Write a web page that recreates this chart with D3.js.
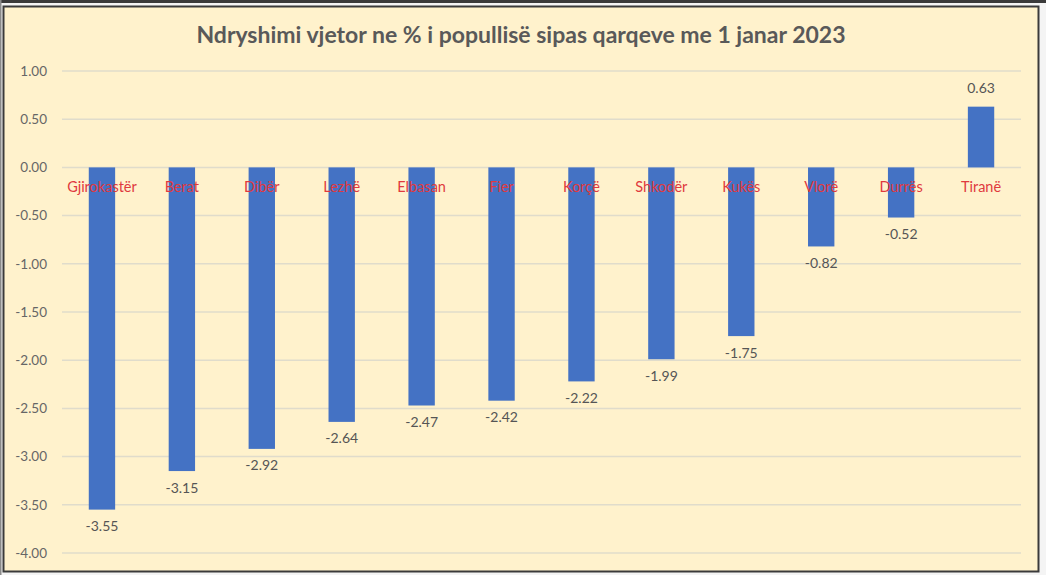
<!DOCTYPE html>
<html><head><meta charset="utf-8">
<script src="https://cdn.jsdelivr.net/npm/d3@7"></script>
<style>html,body{margin:0;padding:0;background:#f4f4f4;}svg{display:block;}</style>
</head><body>
<svg id="chart" width="1046" height="575"></svg>
<script>
const title = "Ndryshimi vjetor ne % i popullisë sipas qarqeve me 1 janar 2023";
const categories = ["Gjirokastër","Berat","Dibër","Lezhë","Elbasan","Fier","Korçë","Shkodër","Kukës","Vlorë","Durrës","Tiranë"];
const values = [-3.55,-3.15,-2.92,-2.64,-2.47,-2.42,-2.22,-1.99,-1.75,-0.82,-0.52,0.63];
const yTicks = [1.00,0.50,0.00,-0.50,-1.00,-1.50,-2.00,-2.50,-3.00,-3.50,-4.00];

const svg = d3.select("#chart");
const font = "Lato, 'Open Sans', sans-serif";
const fmt = d => d.toFixed(2);

// frame
svg.append("rect").attr("x",0).attr("y",0).attr("width",1046).attr("height",3).attr("fill","#3a3a3a");
svg.append("rect").attr("x",0).attr("y",0).attr("width",1.5).attr("height",575).attr("fill","#8a8a8a");
svg.append("rect").attr("x",3.5).attr("y",6.5).attr("width",1035).attr("height",565)
  .attr("fill","#fff2cc").attr("stroke","#3a3a3a").attr("stroke-width",2);

const x = d3.scaleBand().domain(categories).range([62,1021]).paddingInner(0.67).paddingOuter(0.335);
const y = d3.scaleLinear().domain([-4,1]).range([553,71]);

// gridlines
svg.append("g").selectAll("line").data(yTicks).join("line")
  .attr("x1",62).attr("x2",1021).attr("y1",d=>y(d)).attr("y2",d=>y(d))
  .attr("stroke","#e0dccb").attr("stroke-width",1.5);

// y axis
const yAxis = d3.axisLeft(y).tickValues(yTicks).tickFormat(fmt).tickSize(0).tickPadding(0);
const ga = svg.append("g").attr("transform","translate(47,0)").call(yAxis);
ga.select(".domain").remove();
ga.selectAll("text").attr("fill","#666").style("font-family",font).style("font-size","13.5px");

// bars
svg.append("g").selectAll("rect").data(values).join("rect")
  .attr("x",(d,i)=>x(categories[i])).attr("width",x.bandwidth())
  .attr("y",d=>y(Math.max(0,d))).attr("height",d=>Math.abs(y(d)-y(0)))
  .attr("fill","#4472c4");

// category labels
svg.append("g").selectAll("text").data(categories).join("text")
  .attr("x",d=>x(d)+x.bandwidth()/2).attr("y",y(0)+21)
  .attr("text-anchor","middle").attr("dominant-baseline","middle")
  .attr("fill","#e0393e").style("font-family",font).style("font-size","14.5px")
  .text(d=>d);

// value labels
svg.append("g").selectAll("text").data(values).join("text")
  .attr("x",(d,i)=>x(categories[i])+x.bandwidth()/2)
  .attr("y",d=>d<0 ? y(d)+18 : y(d)-17)
  .attr("text-anchor","middle").attr("dominant-baseline","middle")
  .attr("fill","#555").style("font-family",font).style("font-size","14px")
  .text(d=>fmt(d));

// title
svg.append("text").attr("x",521).attr("y",37).attr("text-anchor","middle").attr("dominant-baseline","middle")
  .attr("fill","#595959").style("font-family",font).style("font-weight","bold").style("font-size","23px")
  .text(title);
</script>
</body></html>
